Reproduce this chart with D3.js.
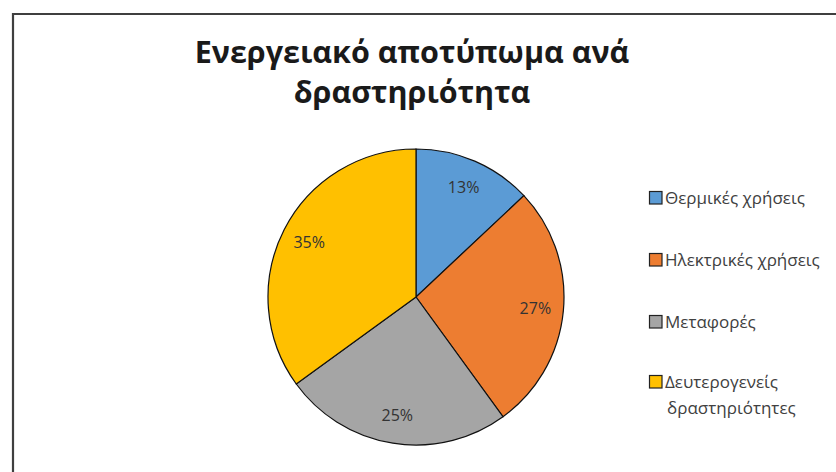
<!DOCTYPE html>
<html><head><meta charset="utf-8">
<script src="https://cdn.jsdelivr.net/npm/d3@7"></script>
<style>body{margin:0;background:#fff}svg{display:block}</style>
</head><body>
<svg id="c" width="836" height="472"></svg>
<script>
const categories = ["Θερμικές χρήσεις","Ηλεκτρικές χρήσεις","Μεταφορές","Δευτερογενείς δραστηριότητες"];
const legendLines = [["Θερμικές χρήσεις"],["Ηλεκτρικές χρήσεις"],["Μεταφορές"],["Δευτερογενείς","δραστηριότητες"]];
const values = [13,27,25,35];
const colors = ["#5B9BD5","#ED7D31","#A5A5A5","#FFC000"];
const titleLines = ["Ενεργειακό αποτύπωμα ανά","δραστηριότητα"];

const svg = d3.select("#c");
const font = "'Open Sans', 'Noto Sans', sans-serif";

// frame
svg.append("path").attr("d","M13,472 V14 H836").attr("fill","none").attr("stroke","#3f3f3f").attr("stroke-width",2.2);

// title
svg.append("g").selectAll("text").data(titleLines).join("text")
  .attr("x",412).attr("y",(d,i)=>63+i*40).attr("text-anchor","middle")
  .attr("font-family",font).attr("font-weight","bold").attr("font-size",30.5)
  .attr("fill","#1a1a1a").text(d=>d);

const cx=416, cy=297, r=148;
const pie = d3.pie().sort(null).value(d=>d);
const arcs = pie(values);
const arc = d3.arc().innerRadius(0).outerRadius(r);
const labelArc = d3.arc().innerRadius(r*0.81).outerRadius(r*0.81);
const g = svg.append("g").attr("transform",`translate(${cx},${cy})`);
g.selectAll("path").data(arcs).join("path").attr("d",arc)
  .attr("fill",(d,i)=>colors[i]).attr("stroke","#111").attr("stroke-width",1.2);
const total = d3.sum(values);
g.selectAll("text").data(arcs).join("text")
  .attr("transform",d=>`translate(${labelArc.centroid(d)})`)
  .attr("text-anchor","middle").attr("dy","0.35em")
  .attr("font-family",font).attr("font-size",16).attr("fill","#333")
  .text(d=>Math.round(d.data/total*100)+"%");

// legend
const ly = [198,260,322,382];
const lg = svg.append("g");
categories.forEach((c,i)=>{
  lg.append("rect").attr("x",649.5).attr("y",ly[i]-6.5).attr("width",12.5).attr("height",12.5)
    .attr("fill",colors[i]).attr("stroke","#222").attr("stroke-width",1.2);
  const t = lg.append("text").attr("x",665).attr("y",ly[i])
    .attr("font-family",font).attr("font-size",17).attr("fill","#404040");
  legendLines[i].forEach((l,j)=>{
    t.append("tspan").attr("x",j?667:665).attr("dy",j?"26":"0.35em").text(l);
  });
});
</script>
</body></html>
